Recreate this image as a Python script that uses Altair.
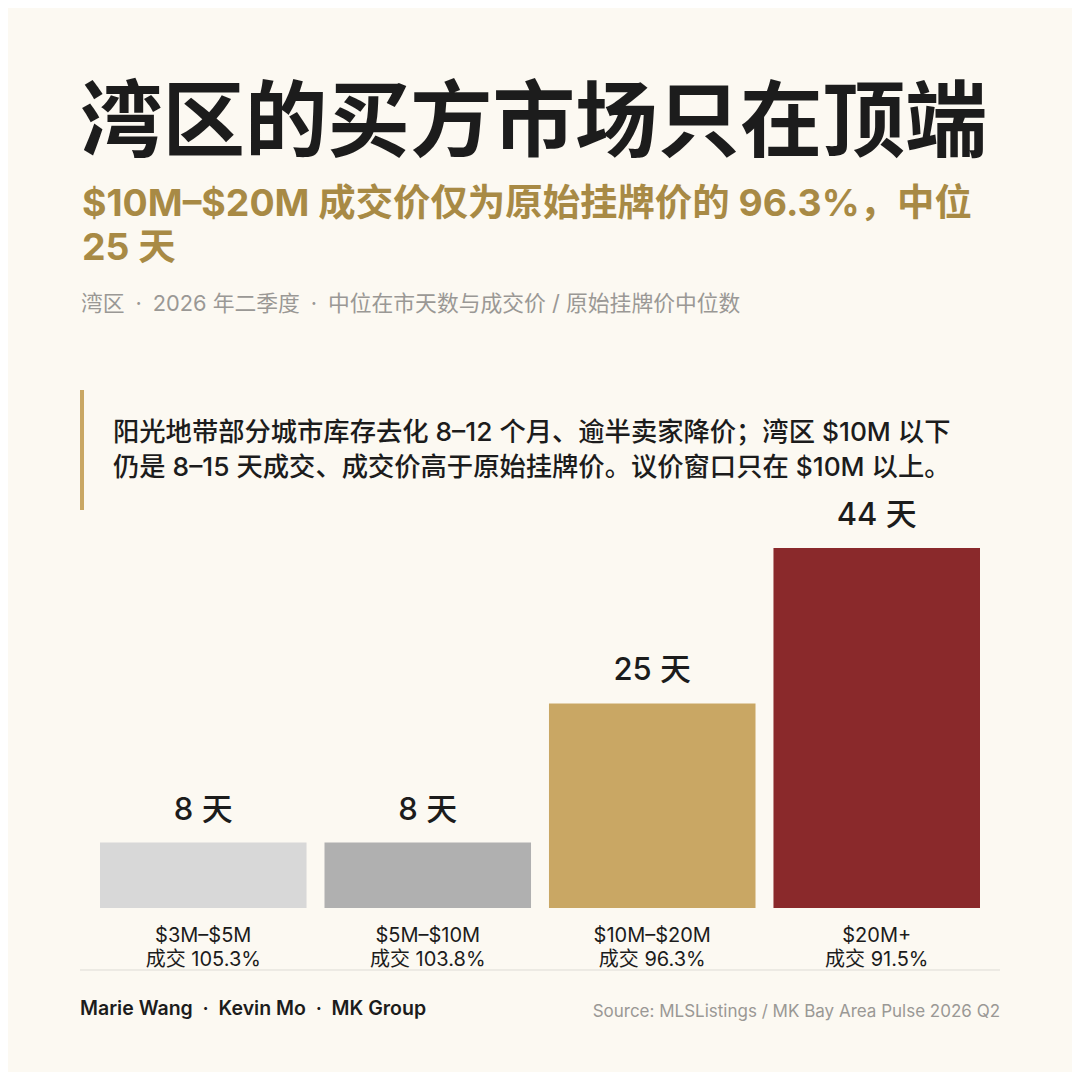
"""湾区的买方市场只在顶端 — median days on market by price tier, MK Bay Area Pulse 2026 Q2."""

import altair as alt
import pandas as pd

# ---------------------------------------------------------------- palette
BG = "#fcf9f2"
INK = "#1c1c1c"
GOLD_TEXT = "#a88a45"
MUTED = "#9a9895"
HAIRLINE = "#dddbd5"
CALLOUT_BAR = "#c9a764"
FONT = "Inter, 'Noto Sans CJK SC', sans-serif"
DOT = "\u2002·\u2002"  # wide-spaced middle dot, as in the reference

# ---------------------------------------------------------------- data
tiers = ["$3M–$5M", "$5M–$10M", "$10M–$20M", "$20M+"]
median_days = [8, 8, 25, 44]
sale_to_list = [105.3, 103.8, 96.3, 91.5]
bar_colors = ["#d8d8d8", "#b0b0b0", "#c9a764", "#8a292b"]

df = pd.DataFrame({
    "tier": tiers,
    "days": median_days,
    "ratio": sale_to_list,
    "day_label": [f"{d} 天" for d in median_days],
    "ratio_label": [f"成交 {r:.1f}%" for r in sale_to_list],
})

TITLE = "湾区的买方市场只在顶端"
SUBTITLE = ["$10M–$20M 成交价仅为原始挂牌价的 96.3%，中位", "25 天"]
KICKER = DOT.join(["湾区", "2026 年二季度", "中位在市天数与成交价 / 原始挂牌价中位数"])
CALLOUT = [
    "阳光地带部分城市库存去化 8–12 个月、逾半卖家降价；湾区 $10M 以下",
    "仍是 8–15 天成交、成交价高于原始挂牌价。议价窗口只在 $10M 以上。",
]
BYLINE = DOT.join(["Marie Wang", "Kevin Mo", "MK Group"])
SOURCE = "Source: MLSListings / MK Bay Area Pulse 2026 Q2"

W, H = 880, 360

# ---------------------------------------------------------------- chart
x_enc = alt.X("tier:N", sort=tiers, axis=None,
              scale=alt.Scale(paddingInner=0.08, paddingOuter=0))
y_enc = alt.Y("days:Q", axis=None, scale=alt.Scale(domain=[0, 44], nice=False))

base = alt.Chart(df)

bars = base.mark_bar().encode(
    x=x_enc,
    y=y_enc,
    color=alt.Color("tier:N", sort=tiers, legend=None,
                    scale=alt.Scale(domain=tiers, range=bar_colors)),
)

value_labels = base.mark_text(
    baseline="middle", dy=-32, font=FONT, fontSize=31, fontWeight=500, color=INK,
).encode(x=x_enc, y=y_enc, text="day_label:N")

tier_labels = base.mark_text(
    baseline="middle", font=FONT, fontSize=20, color=INK,
).encode(x=x_enc, y=alt.value(H + 28), text="tier:N")

ratio_labels = base.mark_text(
    baseline="middle", font=FONT, fontSize=20, color=INK,
).encode(x=x_enc, y=alt.value(H + 52), text="ratio_label:N")

one = alt.Chart(alt.Data(values=[{}]))


def text(value, x, y, size, color, weight=400, align="left", line_height=None):
    kw = dict(align=align, baseline="middle", font=FONT, fontSize=size,
              fontWeight=weight, color=color)
    if line_height:
        kw["lineHeight"] = line_height
    return one.mark_text(**kw).encode(
        x=alt.value(x), y=alt.value(y), text=alt.value(value))


title = text(TITLE, -20, -423, 82.5, INK, weight=700)
subtitle = text(SUBTITLE, -18, -343, 37.4, GOLD_TEXT, weight=700, line_height=44)
kicker = text(KICKER, -19, -244, 21.8, MUTED)
callout = text(CALLOUT, 13, -115, 26.3, INK, weight=500, line_height=35)
callout_bar = one.mark_rule(color=CALLOUT_BAR, strokeWidth=4).encode(
    x=alt.value(-18), y=alt.value(-158), y2=alt.value(-38))
hairline = one.mark_rule(color=HAIRLINE, strokeWidth=1).encode(
    x=alt.value(-20), x2=alt.value(W + 20), y=alt.value(H + 62))
byline = text(BYLINE, -20, H + 101, 19.5, INK, weight=600)
source = text(SOURCE, W + 20, H + 104, 17, MUTED, align="right")

chart = alt.layer(
    bars, value_labels, tier_labels, ratio_labels,
    title, subtitle, kicker, callout_bar, callout, hairline, byline, source,
).properties(
    width=W, height=H, background=BG,
    autosize=alt.AutoSizeParams(type="none"),
    padding={"left": 92, "top": 540, "right": 92, "bottom": 164},
).configure_view(strokeOpacity=0)

chart.save("out.html", embed_options={"renderer": "svg", "actions": False})
